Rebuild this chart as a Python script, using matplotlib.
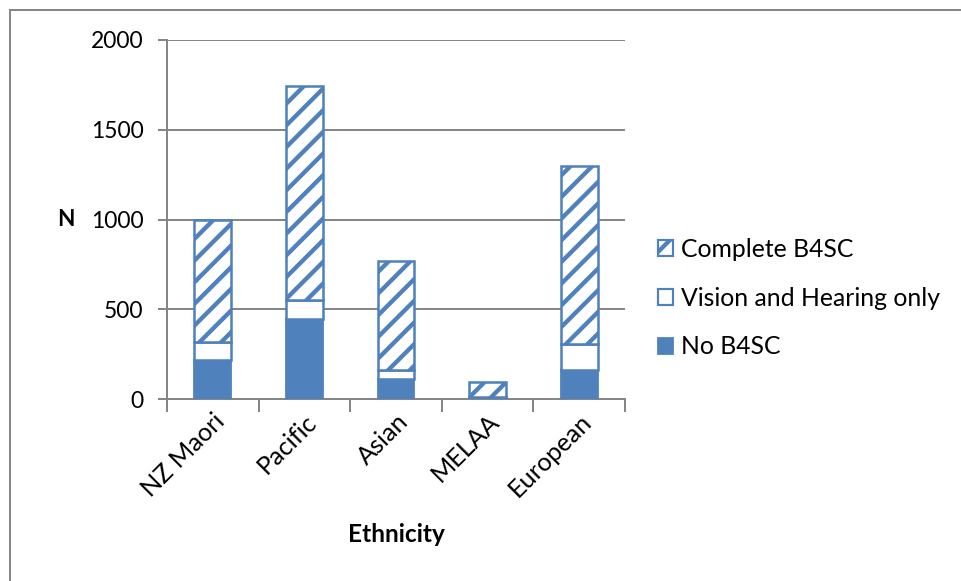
import matplotlib

matplotlib.use("Agg")

import matplotlib.pyplot as plt
import numpy as np
from matplotlib.patches import Patch, Rectangle

ethnicities = ["NZ Maori", "Pacific", "Asian", "MELAA", "European"]
no_b4sc = [217, 446, 111, 8, 162]
vision_hearing = [102, 106, 51, 4, 143]
complete_b4sc = [678, 1192, 607, 83, 993]
y_ticks = [0, 500, 1000, 1500, 2000]

BLUE = "#4F81BD"
GREY = "#868686"

DPI = 130
plt.rcParams["font.family"] = ["Lato", "DejaVu Sans"]
plt.rcParams["hatch.color"] = BLUE
plt.rcParams["hatch.linewidth"] = 2.4

fig = plt.figure(figsize=(961 / DPI, 581 / DPI), dpi=DPI)
ax = fig.add_axes([167 / 961, 1 - 399 / 581, 458 / 961, 359 / 581])

x = np.arange(len(ethnicities))
bottom_vh = np.array(no_b4sc)
bottom_c = bottom_vh + np.array(vision_hearing)
width = 0.4

ax.bar(x, no_b4sc, width, color=BLUE, edgecolor=BLUE, linewidth=1.0, zorder=3)
ax.bar(x, vision_hearing, width, bottom=bottom_vh, color="white",
       edgecolor=BLUE, linewidth=1.4, zorder=3)
ax.bar(x, complete_b4sc, width, bottom=bottom_c, color="white",
       edgecolor=BLUE, hatch="//", linewidth=1.4, zorder=3)

ax.set_xlim(-0.5, len(ethnicities) - 0.5)
ax.set_ylim(0, 2000)
ax.set_yticks(y_ticks)
ax.set_yticklabels([str(v) for v in y_ticks], fontsize=12.7)
ax.grid(axis="y", color=GREY, linewidth=1.1, zorder=0)

ax.set_xticks(np.arange(len(ethnicities) + 1) - 0.5, minor=False)
ax.set_xticklabels([])
ax.set_xticks(x, minor=True)
ax.set_xticklabels(ethnicities, minor=True, rotation=45, ha="right",
                   rotation_mode="anchor", fontsize=14)
ax.tick_params(axis="x", which="major", length=7, width=1.1, color=GREY,
               direction="out")
ax.tick_params(axis="x", which="minor", length=0, pad=6)
ax.tick_params(axis="y", length=5, width=1.1, color=GREY, pad=8)

for side in ("top", "right"):
    ax.spines[side].set_visible(False)
for side in ("left", "bottom"):
    ax.spines[side].set_color(GREY)
    ax.spines[side].set_linewidth(1.1)

ax.set_xlabel("Ethnicity", fontsize=13.5, fontweight="bold", labelpad=12)
ax.set_ylabel("N", fontsize=12.5, fontweight="bold", rotation=0,
              labelpad=14, va="center")

handles = [
    Patch(facecolor="white", edgecolor=BLUE, hatch="//", linewidth=1.2),
    Patch(facecolor="white", edgecolor=BLUE, linewidth=1.2),
    Patch(facecolor=BLUE, edgecolor=BLUE),
]
labels = ["Complete B4SC", "Vision and Hearing only", "No B4SC"]
fig.legend(handles, labels, loc="center left",
           bbox_to_anchor=(636 / 961, 1 - 298 / 581), frameon=False,
           fontsize=13.7, handlelength=0.6, handleheight=0.6,
           handletextpad=0.3, labelspacing=1.05)

# outer chart frame
fig.patches.append(Rectangle((10 / 961, -0.01), 1.0, 1 - 10 / 581 + 0.01,
                             transform=fig.transFigure, fill=False,
                             edgecolor=GREY, linewidth=1.1))

fig.savefig("out.png", dpi=DPI)
